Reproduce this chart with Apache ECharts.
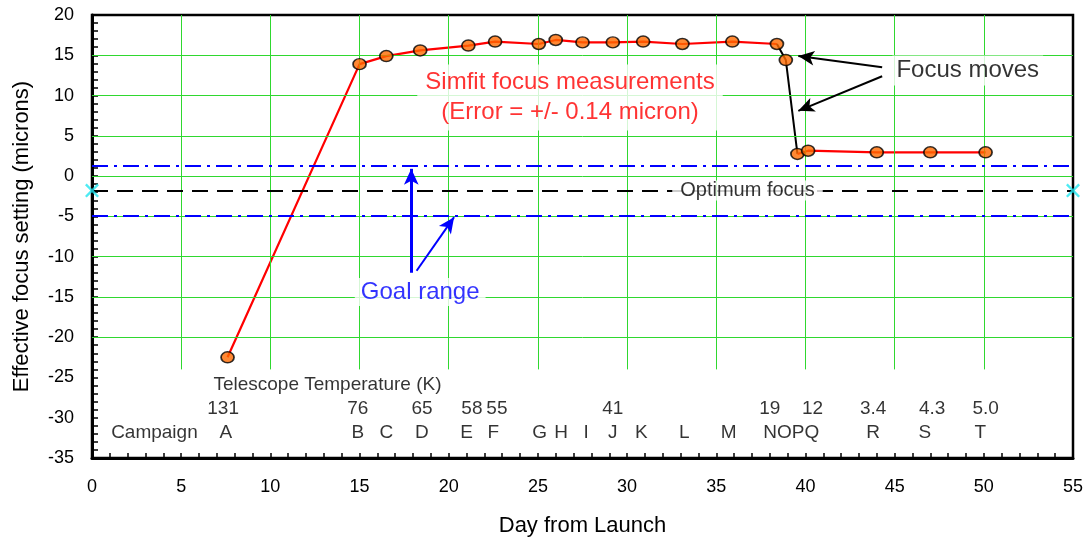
<!DOCTYPE html>
<html>
<head>
<meta charset="utf-8">
<script src="https://cdn.jsdelivr.net/npm/echarts@6/dist/echarts.min.js"></script>
<style>
  html, body { margin: 0; padding: 0; background: #fff; }
  #main { width: 1087px; height: 542px; }
</style>
</head>
<body>
<div id="main"></div>
<script>
// focus measurements (day from launch, effective focus in microns)
const days  = [7.6, 15.0, 16.5, 18.4, 21.1, 22.6, 25.05, 26.0, 27.5, 29.2, 30.9, 33.1, 35.9, 38.4, 38.9, 39.55, 40.15, 44.0, 47.0, 50.1];
const focus = [-22.5, 13.9, 14.9, 15.6, 16.2, 16.7, 16.4, 16.9, 16.6, 16.6, 16.7, 16.4, 16.7, 16.4, 14.4, 2.75, 3.15, 2.95, 2.95, 2.95];

// reference levels
const goalHigh = 1.3;
const optimum = -1.8;
const goalLow = -4.9;

// rows of text under the curve
const tempLabels = ['131', '76', '65', '58', '55', '41', '19', '12', '3.4', '4.3', '5.0'];
const tempDays   = [7.35, 14.9, 18.5, 21.3, 22.7, 29.2, 38.0, 40.4, 43.8, 47.1, 50.1];
const campLabels = ['Campaign', 'A', 'B', 'C', 'D', 'E', 'F', 'G', 'H', 'I', 'J', 'K', 'L', 'M', 'NOPQ', 'R', 'S', 'T'];
const campDays   = [3.5, 7.5, 14.9, 16.5, 18.5, 21.0, 22.5, 25.1, 26.3, 27.7, 29.2, 30.8, 33.2, 35.7, 39.2, 43.8, 46.7, 49.8];
const tempRowY = -28.9;
const campRowY = -31.9;

const xTicks = [0, 5, 10, 15, 20, 25, 30, 35, 40, 45, 50, 55];
const yTicks = [20, 15, 10, 5, 0, -5, -10, -15, -20, -25, -30, -35];

const FONT = 'Liberation Sans, Arial, sans-serif';
const GREEN = '#2fd82f';

const pts = days.map((d, i) => [d, focus[i]]);

// grid lines: verticals stop above the text rows
const gridLines = [];
xTicks.slice(1, -1).forEach(d => gridLines.push([{ coord: [d, 20] }, { coord: [d, -24] }]));
yTicks.slice(1, 9).forEach(v => gridLines.push([{ coord: [0, v] }, { coord: [55, v] }]));

function textPoint(x, y, text, style) {
  return { value: [x, y], label: Object.assign({ formatter: text, textBorderWidth: 0 }, style) };
}

const annotations = [
  textPoint(26.8, 9.75, 'Simfit focus measurements\n(Error = +/- 0.14 micron)',
    { color: '#ff0000', fontSize: 24, lineHeight: 30, backgroundColor: '#fff', padding: [3, 8] }),
  textPoint(49.1, 13.1, 'Focus moves', { color: '#000', fontSize: 24, backgroundColor: '#fff', padding: [3, 4] }),
  textPoint(36.75, optimum, 'Optimum focus', { color: '#000', fontSize: 20, backgroundColor: '#fff', padding: [0, 8] }),
  textPoint(18.4, -14.4, 'Goal range', { color: '#0000ff', fontSize: 24, backgroundColor: '#fff', padding: [2, 6] }),
  textPoint(13.2, -25.9, 'Telescope Temperature (K)', { color: '#000', fontSize: 19 })
];
tempLabels.forEach((t, i) => annotations.push(textPoint(tempDays[i], tempRowY, t, { color: '#000', fontSize: 19 })));
campLabels.forEach((t, i) => annotations.push(textPoint(campDays[i], campRowY, t, { color: '#000', fontSize: 19 })));

const chart = echarts.init(document.getElementById('main'));

chart.setOption({
  animation: false,
  textStyle: { fontFamily: FONT },
  grid: { left: 92, right: 14, top: 15, bottom: 84, show: true, borderColor: '#000', borderWidth: 2.5, backgroundColor: '#fff' },
  xAxis: {
    type: 'value', min: 0, max: 55, interval: 5,
    name: 'Day from Launch', nameLocation: 'middle', nameGap: 57,
    nameTextStyle: { fontSize: 22, color: '#000' },
    axisLine: { onZero: false, lineStyle: { color: '#000', width: 3 } },
    axisTick: { inside: true, length: 5, lineStyle: { color: '#000', width: 1.5 } },
    minorTick: { show: true, splitNumber: 5, length: 5, lineStyle: { color: '#000', width: 1.5 } },
    axisLabel: { fontSize: 18, color: '#000', margin: 20 },
    splitLine: { show: false }
  },
  yAxis: {
    type: 'value', min: -35, max: 20, interval: 5,
    name: 'Effective focus setting (microns)', nameLocation: 'middle', nameGap: 59, nameRotate: 90,
    nameTextStyle: { fontSize: 22, color: '#000' },
    axisLine: { onZero: false, lineStyle: { color: '#000', width: 3 } },
    axisTick: { inside: true, length: 6, lineStyle: { color: '#000', width: 1.5 } },
    minorTick: { show: true, splitNumber: 5, length: 6, lineStyle: { color: '#000', width: 1.5 } },
    axisLabel: { fontSize: 18, color: '#000', margin: 18 },
    splitLine: { show: false }
  },
  series: [
    // green grid
    {
      type: 'line', data: [], silent: true, z: 1,
      markLine: { silent: true, symbol: 'none', label: { show: false }, animation: false,
        lineStyle: { color: GREEN, width: 1, type: 'solid' }, data: gridLines }
    },
    // goal range and optimum focus
    {
      type: 'line', data: [], silent: true, z: 2,
      markLine: { silent: true, symbol: 'none', label: { show: false }, animation: false,
        data: [
          { yAxis: goalHigh, lineStyle: { color: '#0000ff', width: 2, type: [16, 6, 3, 6] } },
          { yAxis: goalLow, lineStyle: { color: '#0000ff', width: 2, type: [16, 6, 3, 6] } },
          { yAxis: optimum, lineStyle: { color: '#000', width: 2, type: [16, 9] } }
        ] }
    },
    // arrows
    {
      type: 'line', data: [], silent: true, z: 3,
      markLine: { silent: true, symbol: ['none', 'arrow'], symbolSize: [11, 16], label: { show: false }, animation: false,
        data: [
          [{ coord: [44.3, 13.5], lineStyle: { color: '#000', width: 2, type: 'solid' } }, { coord: [39.6, 14.9] }],
          [{ coord: [44.3, 12.4], lineStyle: { color: '#000', width: 2, type: 'solid' } }, { coord: [39.6, 8.1] }],
          [{ coord: [17.9, -12.0], lineStyle: { color: '#0000ff', width: 3, type: 'solid' } }, { coord: [17.9, 0.9] }],
          [{ coord: [18.2, -11.75], lineStyle: { color: '#0000ff', width: 2, type: 'solid' } }, { coord: [20.3, -5.1] }]
        ] }
    },
    // red / black connecting lines
    { type: 'line', data: pts.slice(0, 14), showSymbol: false, z: 4, lineStyle: { color: '#ff0000', width: 2.2 } },
    { type: 'line', data: pts.slice(13, 16), showSymbol: false, z: 4, lineStyle: { color: '#000', width: 2 } },
    { type: 'line', data: pts.slice(15), showSymbol: false, z: 4, lineStyle: { color: '#ff0000', width: 2.2 } },
    // measurement markers
    {
      type: 'scatter', data: pts, z: 6, symbol: 'circle', symbolSize: [13, 11],
      itemStyle: { color: '#ff6a00', borderColor: '#000', borderWidth: 1.6 }
    },
    // cyan crosses on the optimum line
    {
      type: 'scatter', data: [[0, optimum], [55, optimum]], z: 7, symbolSize: 14,
      symbol: 'path://M0,1.2L1.2,0L5,3.8L8.8,0L10,1.2L6.2,5L10,8.8L8.8,10L5,6.2L1.2,10L0,8.8L3.8,5Z',
      itemStyle: { color: '#22e6f0' }
    },
    // text
    {
      type: 'scatter', data: annotations, z: 5, silent: true, symbolSize: 0,
      itemStyle: { color: '#fff' },
      label: { show: true, position: 'inside', fontFamily: FONT }
    }
  ]
});
</script>
</body>
</html>
